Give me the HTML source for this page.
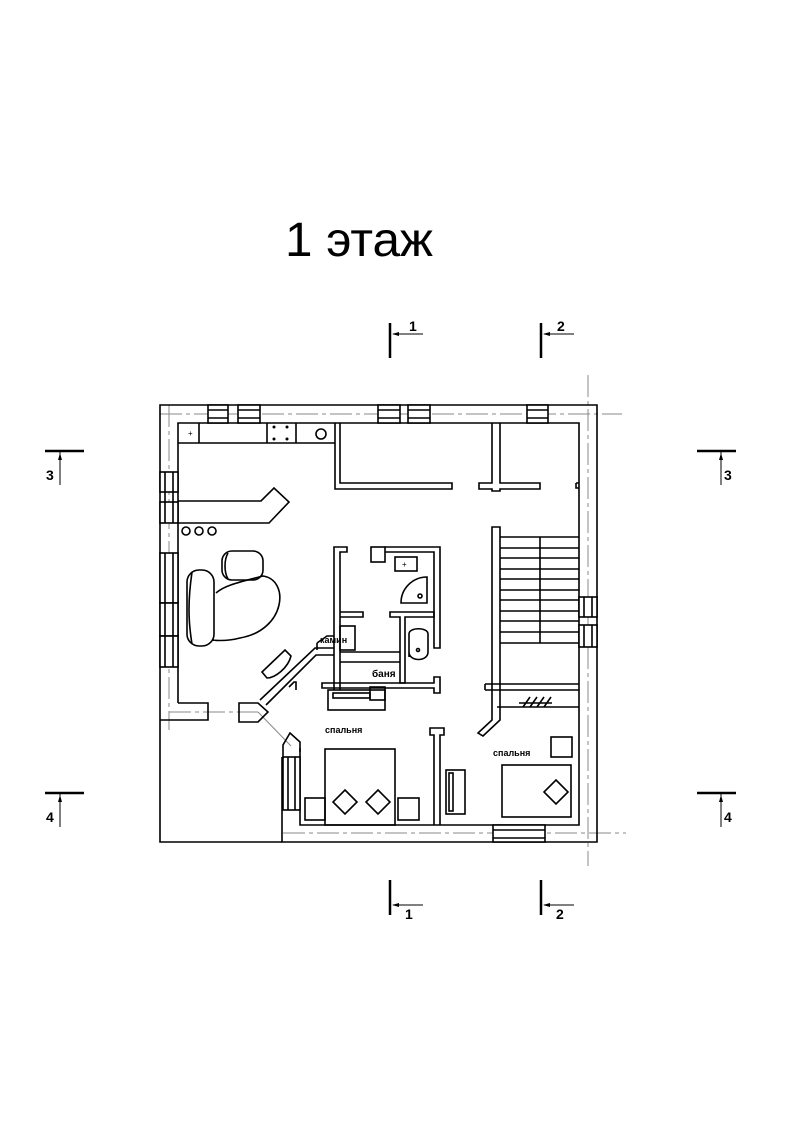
<!DOCTYPE html>
<html><head><meta charset="utf-8"><style>body{margin:0;background:#fff}svg{display:block}</style></head><body>
<svg width="800" height="1131" viewBox="0 0 800 1131" xmlns="http://www.w3.org/2000/svg" font-family="Liberation Sans, sans-serif">
<rect width="800" height="1131" fill="#fff"/>
<text x="285" y="256" font-size="48" textLength="148" lengthAdjust="spacingAndGlyphs">1 этаж</text>

<!-- axes -->
<g stroke="#888" stroke-width="1" fill="none" stroke-dasharray="22,4,4,4">
<line x1="160" y1="414" x2="622" y2="414"/>
<line x1="588" y1="375" x2="588" y2="866"/>
<line x1="283" y1="833" x2="626" y2="833"/>
<line x1="169" y1="405" x2="169" y2="730"/>
<line x1="169" y1="712" x2="258" y2="712"/>
</g>
<line x1="258" y1="712" x2="291" y2="746" stroke="#888" stroke-width="1"/>

<g stroke="#000" stroke-width="1.6" fill="none">
<path d="M160,720 V405 H597 V842 H282 V757"/>
<path d="M178,703 V423 H579 V825 H300 V748"/>
<path d="M178,703 H208 V720 H160"/>
<path d="M160,720 V842 H282"/>
<path d="M283,757 V745 L290,733 L300,742 V752"/>
<g fill="#fff">
<rect x="208" y="405" width="20" height="18"/><rect x="238" y="405" width="22" height="18"/>
<rect x="378" y="405" width="22" height="18"/><rect x="408" y="405" width="22" height="18"/>
<rect x="527" y="405" width="21" height="18"/>
<rect x="579" y="597" width="18" height="20"/><rect x="579" y="625" width="18" height="22"/>
<rect x="493" y="825" width="52" height="17"/>
<rect x="160" y="472" width="18" height="20"/><rect x="160" y="502" width="18" height="21"/>
<rect x="160" y="553" width="18" height="50"/><rect x="160" y="603" width="18" height="33"/><rect x="160" y="636" width="18" height="31"/>
<rect x="283" y="757" width="17" height="53"/>
</g>
<path d="M208,410 H228 M208,418 H228 M238,410 H260 M238,418 H260 M378,410 H400 M378,418 H400 M408,410 H430 M408,418 H430 M527,410 H548 M527,418 H548"/>
<path d="M584,597 V617 M592,597 V617 M584,625 V647 M592,625 V647 M493,830 H545 M493,838 H545"/>
<path d="M165,472 V523 M173,472 V523 M165,553 V667 M173,553 V667 M288,757 V810 M295,757 V810"/>

<path d="M178,443 H335 M199,423 V443 M267,423 V443 M296,423 V443"/>
<circle cx="321" cy="434" r="5"/>
<path d="M335,423 V489 H452 V483 H340 V423"/>
<path d="M492,423 V483 H479 V489 H492 V491 H500 V489 H540 V483 H500 V423"/>
<path d="M576,483 H579 M576,483 V488 H579"/>
<path d="M178,501 H261 L274,488 L289,502 L269,523 H178"/>
<circle cx="186" cy="531" r="4"/><circle cx="199" cy="531" r="4"/><circle cx="212" cy="531" r="4"/>
<rect x="187" y="570" width="27" height="76" rx="12"/>
<path d="M192,572 C188,600 188,620 192,644"/>
<rect x="222" y="551" width="41" height="29" rx="10"/>
<path d="M228,553 C224,560 224,572 228,579"/>
<path d="M216,593 C225,585 240,582 263,576 C290,580 286,630 240,638 C225,642 210,640 214,640"/>
<path d="M334,690 V547 H347 V552 H340 V690"/>
<rect x="371" y="547" width="14" height="15"/>
<path d="M385,547 H440 V648 H434 V552 H385"/>
<rect x="395" y="557" width="22" height="14"/>
<path d="M427,577 A26,26 0 0 0 401,603 H427 Z"/>
<circle cx="420" cy="596" r="2"/>
<path d="M340,612 H363 V617 H340 M390,612 H434 V617 H405 V683 H400 V617 H390 Z"/>
<path d="M409,657 V634 C409,627 428,627 428,634 V652 C428,662 409,662 409,652"/>
<circle cx="418" cy="650" r="1.5"/>
<rect x="340" y="626" width="15" height="24"/>
<path d="M340,652 H400 M340,662 H400"/>
<path d="M322,683 H434 V677 H440 V693 H434 V688 H322 Z"/>
<rect x="328" y="690" width="57" height="20"/><rect x="333" y="693" width="37" height="5"/><rect x="370" y="687" width="15" height="13"/>
<path d="M317,643 L327,636 H334 M317,643 V650"/>
<path d="M260,700 L315,648 H334 M266,705 L316,655 H334"/>
<path d="M289,687 L294,682 H296 V690"/>
<path d="M262,672 L285,650 L291,656 C288,668 275,678 267,678 Z"/>
<path d="M239,703 H258 L268,712 L258,722 H239 Z"/>
<path d="M492,690 V527 H500 V690"/>
<path d="M500,537 H579 M500,548 H579 M500,558 H579 M500,569 H579 M500,579 H579 M500,590 H579 M500,600 H579 M500,611 H579 M500,621 H579 M500,632 H579 M500,643 H579 M540,537 V643"/>
<path d="M485,684 H579 M485,690 H579 M485,684 V690 M497,707 H579"/>
<path d="M500,690 V720 L483,736 L478,733 L492,720 V690"/>
<path d="M519,703 H552 M523,707 L530,697 M530,707 L537,697 M537,707 L544,697 M544,707 L551,697"/>
<path d="M434,825 V735 H430 V728 H444 V735 H440 V825"/>
<rect x="446" y="770" width="19" height="44"/><rect x="449" y="773" width="4" height="38"/>
<rect x="325" y="749" width="70" height="76"/>
<rect x="305" y="798" width="20" height="22"/><rect x="398" y="798" width="21" height="22"/>
<path d="M345,790 L357,802 L345,814 L333,802 Z M378,790 L390,802 L378,814 L366,802 Z"/>
<rect x="502" y="765" width="69" height="52"/>
<path d="M556,780 L568,792 L556,804 L544,792 Z"/>
<rect x="551" y="737" width="21" height="20"/>
</g>
<circle cx="274" cy="427" r="1.5"/><circle cx="287" cy="427" r="1.5"/><circle cx="274" cy="439" r="1.5"/><circle cx="287" cy="439" r="1.5"/>
<text x="188" y="436" font-size="8">+</text><text x="402" y="567" font-size="8">+</text>
<g font-size="10" font-weight="bold">
<text x="320" y="643" font-size="9">камин</text><text x="372" y="677">баня</text>
<text x="325" y="733" font-size="9">спальня</text><text x="493" y="756" font-size="9">спальня</text>
</g>

<g stroke="#000" fill="none">
<path d="M390,323 V358 M541,323 V358 M390,880 V915 M541,880 V915 M45,451 H84 M697,451 H736 M45,793 H84 M697,793 H736" stroke-width="2.5"/>
<path d="M393,334 H423 M544,334 H574 M393,905 H423 M544,905 H574 M60,452 V485 M721,452 V485 M60,794 V827 M721,794 V827" stroke-width="1"/>
</g>
<g fill="#000">
<path d="M392,334 L399,332 V336 Z M543,334 L550,332 V336 Z M392,905 L399,903 V907 Z M543,905 L550,903 V907 Z M60,453 L58,460 H62 Z M721,453 L719,460 H723 Z M60,795 L58,802 H62 Z M721,795 L719,802 H723 Z"/>
</g>
<g font-size="14" font-weight="bold">
<text x="409" y="331">1</text><text x="557" y="331">2</text>
<text x="405" y="919">1</text><text x="556" y="919">2</text>
<text x="46" y="480">3</text><text x="724" y="480">3</text>
<text x="46" y="822">4</text><text x="724" y="822">4</text>
</g>
</svg>
</body></html>
